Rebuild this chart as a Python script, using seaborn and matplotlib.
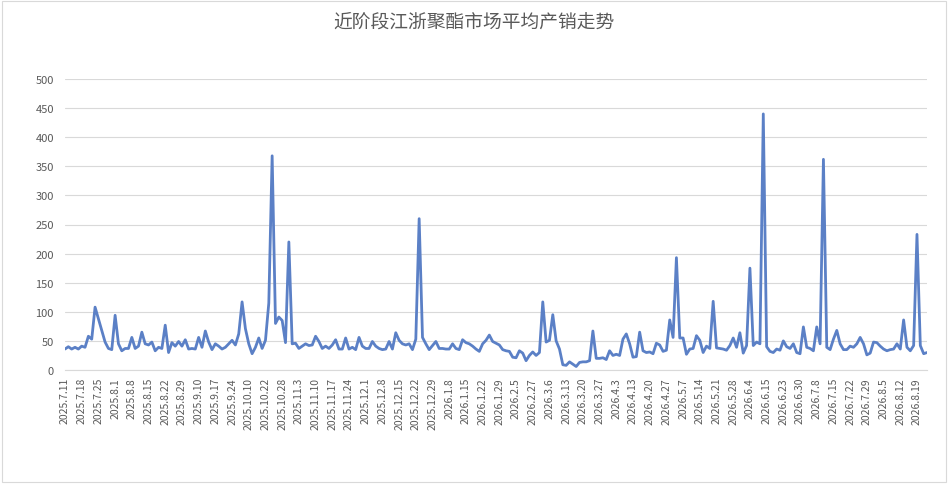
import numpy as np
import pandas as pd
import matplotlib
matplotlib.use("Agg")
import matplotlib.pyplot as plt
import seaborn as sns
from matplotlib.patches import Rectangle
from matplotlib.ticker import MultipleLocator

title = "近阶段江浙聚酯市场平均产销走势"

# average sales ratio (%), one value per trading day
values = [
    36, 40, 36, 39, 36, 41, 39, 58, 53, 108,
    88, 68, 48, 37, 35, 94, 45, 33, 37, 37,
    56, 37, 41, 65, 45, 43, 48, 33, 39, 37,
    77, 30, 47, 41, 49, 41, 52, 36, 37, 36,
    56, 39, 67, 48, 35, 45, 41, 36, 39, 45,
    51, 43, 62, 117, 71, 45, 28, 39, 55, 37,
    51, 115, 368, 80, 91, 85, 47, 220, 45, 46,
    37, 41, 45, 42, 43, 58, 49, 37, 41, 37,
    43, 52, 36, 36, 55, 36, 39, 35, 56, 41,
    37, 37, 49, 41, 37, 35, 36, 49, 36, 64,
    51, 45, 43, 45, 35, 53, 260, 56, 45, 35,
    42, 49, 37, 37, 36, 36, 45, 37, 35, 52,
    47, 45, 41, 36, 32, 45, 51, 60, 49, 46,
    43, 35, 33, 32, 22, 21, 33, 29, 16, 25,
    31, 25, 30, 117, 48, 51, 95, 50, 36, 9,
    8, 14, 10, 6, 13, 14, 14, 16, 67, 20,
    20, 21, 18, 33, 25, 27, 25, 53, 62, 45,
    22, 23, 65, 33, 30, 31, 28, 46, 43, 32,
    34, 86, 56, 193, 55, 55, 27, 36, 37, 59,
    51, 30, 41, 37, 118, 38, 37, 36, 34, 42,
    55, 39, 64, 29, 42, 175, 42, 48, 45, 440,
    40, 32, 30, 36, 34, 50, 40, 37, 45, 30,
    28, 74, 39, 37, 33, 74, 45, 362, 39, 35,
    53, 68, 45, 35, 35, 41, 39, 45, 56, 45,
    26, 29, 48, 47, 41, 36, 33, 35, 36, 45,
    36, 86, 39, 33, 42, 233, 42, 28, 30,
]

# date shown under every 5th point
tick_labels = [
    "2025.7.11", "2025.7.18", "2025.7.25", "2025.8.1", "2025.8.8", "2025.8.15",
    "2025.8.22", "2025.8.29", "2025.9.10", "2025.9.17", "2025.9.24", "2025.10.10",
    "2025.10.22", "2025.10.28", "2025.11.3", "2025.11.10", "2025.11.17", "2025.11.24",
    "2025.12.1", "2025.12.8", "2025.12.15", "2025.12.22", "2025.12.29", "2026.1.8",
    "2026.1.15", "2026.1.22", "2026.1.29", "2026.2.5", "2026.2.27", "2026.3.6",
    "2026.3.13", "2026.3.20", "2026.3.27", "2026.4.3", "2026.4.13", "2026.4.20",
    "2026.4.27", "2026.5.7", "2026.5.14", "2026.5.21", "2026.5.28", "2026.6.4",
    "2026.6.15", "2026.6.23", "2026.6.30", "2026.7.8", "2026.7.15", "2026.7.22",
    "2026.7.29", "2026.8.5", "2026.8.12", "2026.8.19",
]
label_step = 5

df = pd.DataFrame({"idx": np.arange(len(values)), "value": values})

sns.set_style("white")
plt.rcParams["font.family"] = ["Noto Sans CJK SC", "DejaVu Sans"]

fig = plt.figure(figsize=(9.48, 4.85), dpi=100)
ax = fig.add_axes([65 / 948, 1 - 371 / 485, (927 - 65) / 948, (371 - 80) / 485])

sns.lineplot(data=df, x="idx", y="value", ax=ax, color="#5B80C6", linewidth=2.0)

ax.set_xlim(0, len(values) - 1)
ax.set_ylim(0, 500)
ax.yaxis.set_major_locator(MultipleLocator(50))
ax.grid(axis="y", color="#D9D9D9", linewidth=0.8)
ax.set_axisbelow(True)

ax.set_xticks(np.arange(len(tick_labels)) * label_step)
ax.set_xticklabels(tick_labels, rotation=90, fontsize=7.5, color="#595959")
ax.xaxis.set_minor_locator(MultipleLocator(3))
ax.tick_params(axis="x", which="major", length=0, pad=5)
ax.tick_params(axis="x", which="minor", length=4, color="#D9D9D9", width=0.8, direction="out")
ax.tick_params(axis="y", length=0, pad=8, labelsize=8, labelcolor="#595959")

for side in ["top", "right", "left"]:
    ax.spines[side].set_visible(False)
ax.spines["bottom"].set_color("#D9D9D9")
ax.spines["bottom"].set_linewidth(0.8)

ax.set_xlabel("")
ax.set_ylabel("")
fig.text(0.5, 1 - 22 / 485, title, ha="center", va="center", fontsize=13.5, color="#595959")

fig.patches.append(Rectangle((0.002, 0.004), 0.996, 0.992, transform=fig.transFigure,
                             fill=False, edgecolor="#D9D9D9", linewidth=0.8))

fig.savefig("out.png", dpi=100)
